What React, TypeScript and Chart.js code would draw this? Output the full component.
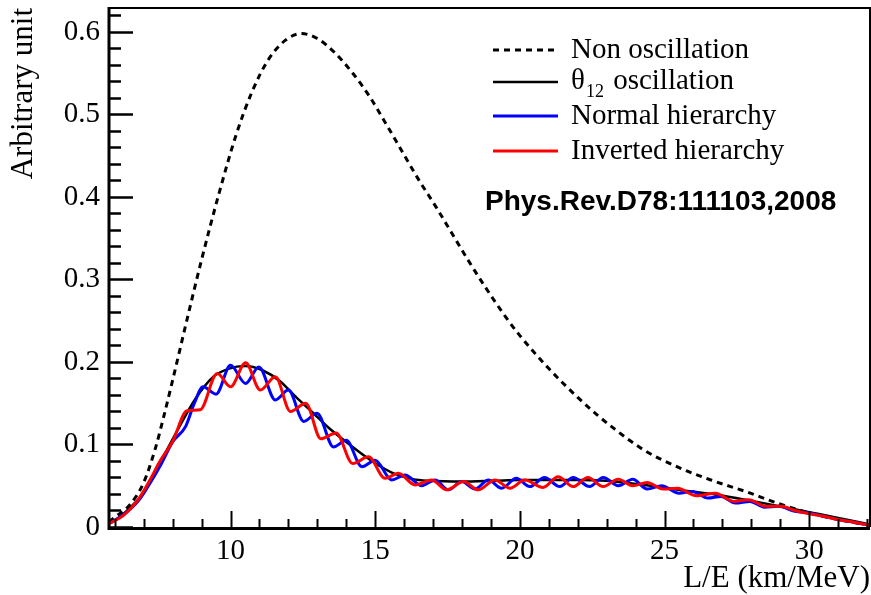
import { useEffect, useRef } from 'react';
import { Chart, registerables } from 'chart.js';

Chart.register(...registerables);

// ---- axis ticks ----
const xTickValues = [10, 15, 20, 25, 30];
const yTickValues = [0, 0.1, 0.2, 0.3, 0.4, 0.5, 0.6];
const xRange = [5.8, 32.1];
const yRange = [0, 0.629];

// ---- series names ----
const seriesNames = ['Non oscillation', 'θ12 oscillation', 'Normal hierarchy', 'Inverted hierarchy'];
const reference = 'Phys.Rev.D78:111103,2008';
const xTitle = 'L/E (km/MeV)';
const yTitle = 'Arbitrary unit';

// ---- Non oscillation (dashed) ----
const nonOscX = [5.8, 6, 6.5, 7, 7.4, 7.7, 8, 8.5, 9, 9.6, 10.2, 10.75, 11.3, 11.9, 12.45, 13.0, 13.6, 14.2, 14.8, 15.35, 15.9, 16.5, 17.1, 17.65, 18.2, 18.8, 19.5, 20, 21, 22, 22.7, 23.3, 24.3, 25.5, 26.6, 27.8, 28.9, 30, 31, 32.1];
const nonOscY = [0.006, 0.012, 0.026, 0.054, 0.095, 0.135, 0.178, 0.252, 0.324, 0.404, 0.476, 0.528, 0.566, 0.59, 0.598, 0.592, 0.575, 0.551, 0.522, 0.49, 0.457, 0.421, 0.388, 0.356, 0.324, 0.291, 0.255, 0.232, 0.192, 0.157, 0.135, 0.118, 0.093, 0.072, 0.057, 0.043, 0.029, 0.017, 0.009, 0.002];

// ---- theta12 oscillation (black) ----
const theta12X = [5.8, 6.2, 6.6, 7.0, 7.4, 8.1, 8.8, 9.4, 9.95, 10.5, 11.1, 11.7, 12.25, 12.8, 13.4, 14.0, 14.6, 15.2, 15.7, 16.3, 16.85, 18.0, 19.1, 20, 21, 22, 23, 23.8, 24.5, 25.5, 26.8, 27.8, 29, 30, 31, 32.1];
const theta12Y = [0.004, 0.013, 0.026, 0.041, 0.067, 0.113, 0.156, 0.182, 0.192, 0.195, 0.19, 0.177, 0.158, 0.14, 0.12, 0.103, 0.087, 0.073, 0.064, 0.058, 0.056, 0.055, 0.056, 0.057, 0.057, 0.057, 0.056, 0.053, 0.05, 0.045, 0.039, 0.033, 0.025, 0.018, 0.011, 0.003];

// ---- Normal hierarchy (blue) ----
const normalX = [5.8, 6.3, 6.8, 7.25, 7.6, 8.0, 8.45, 8.75, 9.05, 9.5, 10.0, 10.52, 10.98, 11.55, 12.0, 12.53, 12.99, 13.56, 14.0, 14.54, 15.0, 15.57, 16.03, 16.61, 17.07, 17.53, 17.99, 18.45, 18.91, 19.37, 19.88, 20.34, 20.85, 21.38, 21.84, 22.41, 22.88, 23.4, 23.9, 24.4, 24.9, 25.5, 25.95, 26.5, 26.95, 27.45, 27.95, 28.45, 28.95, 29.5, 30.0, 30.5, 31.0, 31.5, 32.1];
const normalY = [0.004, 0.015, 0.031, 0.055, 0.076, 0.103, 0.122, 0.15, 0.17, 0.161, 0.196, 0.174, 0.194, 0.154, 0.166, 0.128, 0.138, 0.097, 0.105, 0.073, 0.081, 0.057, 0.063, 0.05, 0.057, 0.045, 0.055, 0.046, 0.057, 0.047, 0.059, 0.049, 0.06, 0.049, 0.06, 0.049, 0.06, 0.05, 0.058, 0.046, 0.05, 0.041, 0.043, 0.035, 0.037, 0.029, 0.031, 0.024, 0.025, 0.019, 0.017, 0.013, 0.009, 0.006, 0.002];

// ---- Inverted hierarchy (red) ----
const invertedX = [5.8, 6.3, 6.8, 7.2, 7.55, 8.0, 8.5, 8.95, 9.54, 10.0, 10.52, 11.03, 11.55, 12.07, 12.6, 13.12, 13.65, 14.22, 14.77, 15.34, 15.8, 16.38, 16.95, 17.47, 18.05, 18.56, 19.14, 19.66, 20.17, 20.8, 21.32, 21.84, 22.35, 22.88, 23.4, 23.9, 24.4, 24.95, 25.45, 26.1, 26.75, 27.4, 27.9, 28.5, 29.0, 29.5, 30.0, 30.5, 31.0, 31.5, 32.1];
const invertedY = [0.004, 0.014, 0.033, 0.056, 0.079, 0.104, 0.141, 0.142, 0.186, 0.17, 0.199, 0.166, 0.182, 0.14, 0.15, 0.107, 0.114, 0.077, 0.085, 0.059, 0.065, 0.051, 0.057, 0.045, 0.055, 0.045, 0.057, 0.047, 0.057, 0.048, 0.061, 0.049, 0.06, 0.049, 0.058, 0.05, 0.054, 0.046, 0.047, 0.038, 0.041, 0.031, 0.033, 0.025, 0.025, 0.02, 0.016, 0.013, 0.009, 0.006, 0.002];

const toPoints = (xs: number[], ys: number[]) => xs.map((x, i) => ({ x, y: ys[i] }));

const SERIF = '"Liberation Serif", "Times New Roman", serif';

const framePlugin = {
  id: 'frameTicks',
  afterDraw(chart: any) {
    const { ctx, chartArea: a, scales } = chart;
    const xs = scales.x;
    const ys = scales.y;
    ctx.save();
    ctx.strokeStyle = '#000';
    // y ticks (inside)
    for (let i = 0; i <= 31; i++) {
      const v = i * 0.02;
      const py = Math.round(ys.getPixelForValue(v)) + 0.5;
      const major = i % 5 === 0;
      ctx.lineWidth = 2.5;
      ctx.beginPath();
      ctx.moveTo(a.left, py);
      ctx.lineTo(a.left + (major ? 24 : 12), py);
      ctx.stroke();
    }
    // x ticks (inside)
    for (let v = 6; v <= 32; v++) {
      const px = Math.round(xs.getPixelForValue(v)) + 0.5;
      const major = v % 5 === 0;
      ctx.lineWidth = 2;
      ctx.beginPath();
      ctx.moveTo(px, a.bottom);
      ctx.lineTo(px, a.bottom - (major ? 16 : 8));
      ctx.stroke();
    }
    // frame
    ctx.lineWidth = 2;
    ctx.beginPath();
    ctx.moveTo(a.left, a.top);
    ctx.lineTo(a.right, a.top);
    ctx.lineTo(a.right, a.bottom);
    ctx.stroke();
    ctx.lineWidth = 3;
    ctx.beginPath();
    ctx.moveTo(a.left, a.top - 1);
    ctx.lineTo(a.left, a.bottom + 1.5);
    ctx.lineTo(a.right, a.bottom + 1.5);
    ctx.stroke();

    // legend
    const rowsY = [50, 82, 116, 151];
    const styles = [
      { color: '#000', width: 3, dash: [6, 5] },
      { color: '#000', width: 2.5, dash: [] },
      { color: '#0000ff', width: 3, dash: [] },
      { color: '#ff0000', width: 3, dash: [] },
    ];
    ctx.textBaseline = 'middle';
    ctx.fillStyle = '#000';
    seriesNames.forEach((name, i) => {
      const s = styles[i];
      ctx.strokeStyle = s.color;
      ctx.lineWidth = s.width;
      ctx.setLineDash(s.dash);
      ctx.beginPath();
      ctx.moveTo(493, rowsY[i]);
      ctx.lineTo(558, rowsY[i]);
      ctx.stroke();
      ctx.setLineDash([]);
      let tx = 571;
      if (name.startsWith('θ12')) {
        ctx.font = '29px ' + SERIF;
        ctx.fillText('θ', tx, rowsY[i] - 1);
        tx += ctx.measureText('θ').width + 1;
        ctx.font = '18px ' + SERIF;
        ctx.fillText('12', tx, rowsY[i] + 10);
        tx += ctx.measureText('12').width + 2;
        ctx.font = '29px ' + SERIF;
        ctx.fillText(name.slice(3), tx, rowsY[i] - 1);
      } else {
        ctx.font = '29px ' + SERIF;
        ctx.fillText(name, tx, rowsY[i]);
      }
    });
    ctx.font = 'bold 28px "Liberation Sans", Arial, sans-serif';
    ctx.fillText(reference, 485, 202, 352);
    ctx.restore();
  },
};

export default function App() {
  const ref = useRef<HTMLCanvasElement | null>(null);
  useEffect(() => {
    if (!ref.current) return;
    const chart = new Chart(ref.current, {
      type: 'line',
      data: {
        datasets: [
          {
            label: seriesNames[3],
            data: toPoints(invertedX, invertedY),
            borderColor: '#ff0000',
            borderWidth: 3,
            pointRadius: 0,
            cubicInterpolationMode: 'monotone',
            fill: false,
          },
          {
            label: seriesNames[2],
            data: toPoints(normalX, normalY),
            borderColor: '#0000ff',
            borderWidth: 3,
            pointRadius: 0,
            cubicInterpolationMode: 'monotone',
            fill: false,
          },
          {
            label: seriesNames[1],
            data: toPoints(theta12X, theta12Y),
            borderColor: '#000000',
            borderWidth: 2.5,
            pointRadius: 0,
            cubicInterpolationMode: 'monotone',
            fill: false,
          },
          {
            label: seriesNames[0],
            data: toPoints(nonOscX, nonOscY),
            borderColor: '#000000',
            borderWidth: 3,
            borderDash: [6, 5],
            pointRadius: 0,
            cubicInterpolationMode: 'monotone',
            fill: false,
          },
        ],
      },
      options: {
        responsive: false,
        animation: false,
        devicePixelRatio: 1,
        parsing: false,
        layout: { padding: { top: 8, right: 1, left: 0, bottom: 0 } },
        plugins: { legend: { display: false }, tooltip: { enabled: false } },
        scales: {
          x: {
            type: 'linear',
            min: xRange[0],
            max: xRange[1],
            afterBuildTicks: (s: any) => {
              s.ticks = xTickValues.map((v) => ({ value: v }));
            },
            afterFit: (s: any) => {
              s.height = 68;
              s.paddingLeft = 0;
              s.paddingRight = 0;
            },
            grid: { display: false, drawTicks: false },
            border: { display: false },
            ticks: {
              color: '#000',
              font: { family: SERIF, size: 29 },
              padding: 7,
              maxRotation: 0,
              autoSkip: false,
              callback: (v: any) => String(v),
            },
            title: {
              display: true,
              text: xTitle,
              align: 'end',
              color: '#000',
              font: { family: SERIF, size: 31 },
              padding: { top: 0, bottom: -2 },
            },
          },
          y: {
            type: 'linear',
            min: yRange[0],
            max: yRange[1],
            afterBuildTicks: (s: any) => {
              s.ticks = yTickValues.map((v) => ({ value: v }));
            },
            afterFit: (s: any) => {
              s.width = 109;
              s.paddingTop = 0;
              s.paddingBottom = 0;
            },
            grid: { display: false, drawTicks: false },
            border: { display: false },
            ticks: {
              color: '#000',
              font: { family: SERIF, size: 29 },
              padding: 9,
              callback: (v: any) => (v === 0 ? '0' : Number(v).toFixed(1)),
            },
            title: {
              display: true,
              text: yTitle,
              align: 'end',
              color: '#000',
              font: { family: SERIF, size: 31 },
              padding: { top: 5, bottom: 0 },
            },
          },
        },
      },
      plugins: [framePlugin],
    } as any);
    return () => chart.destroy();
  }, []);
  return (
    <div style={{ position: 'absolute', left: 0, top: 0, width: 871, height: 595, background: '#fff' }}>
      <canvas ref={ref} width={871} height={595} />
    </div>
  );
}
